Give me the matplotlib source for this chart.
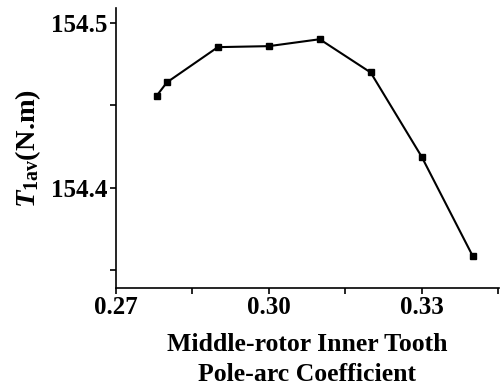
import matplotlib
matplotlib.use("Agg")
import matplotlib.pyplot as plt
from matplotlib.ticker import MultipleLocator

coefficient = [0.278, 0.280, 0.290, 0.300, 0.310, 0.320, 0.330, 0.340]
torque = [154.4558, 154.4639, 154.4853, 154.4859, 154.4901, 154.4699, 154.4188, 154.3586]
x_ticks = [0.27, 0.30, 0.33]
x_tick_labels = ["0.27", "0.30", "0.33"]
y_ticks = [154.4, 154.5]
y_tick_labels = ["154.4", "154.5"]

plt.rcParams["font.family"] = ["Liberation Serif", "DejaVu Serif"]
plt.rcParams["mathtext.fontset"] = "custom"
plt.rcParams["mathtext.rm"] = "Liberation Serif:bold"
plt.rcParams["mathtext.it"] = "Liberation Serif:italic:bold"
plt.rcParams["mathtext.bf"] = "Liberation Serif:bold"

fig = plt.figure(figsize=(5, 3.87), dpi=100)
ax = fig.add_axes([0.232, 0.256, 0.766, 0.723])

ax.plot(coefficient, torque, color="black", linewidth=1.5, marker="s", markersize=5)

ax.set_xlim(0.27, 0.3452)
ax.set_ylim(154.339, 154.509)
ax.set_xticks(x_ticks)
ax.set_xticklabels(x_tick_labels)
ax.set_yticks(y_ticks)
ax.set_yticklabels(y_tick_labels)
ax.xaxis.set_minor_locator(MultipleLocator(0.015))
ax.yaxis.set_minor_locator(MultipleLocator(0.05))

for s in ["top", "right"]:
    ax.spines[s].set_visible(False)
for s in ["left", "bottom"]:
    ax.spines[s].set_linewidth(1.2)

ax.tick_params(which="both", direction="out", width=1.2, length=4, labelsize=18, pad=2)
for lab in ax.get_xticklabels() + ax.get_yticklabels():
    lab.set_fontweight("bold")

ax.set_xlabel("Middle-rotor Inner Tooth\nPole-arc Coefficient", fontsize=18.5,
              fontweight="bold", labelpad=10, linespacing=1.4)
ax.set_ylabel(r"$T_{\mathrm{1av}}$(N.m)", fontsize=20.5, fontweight="bold", labelpad=6)

fig.savefig("out.png", dpi=100)
